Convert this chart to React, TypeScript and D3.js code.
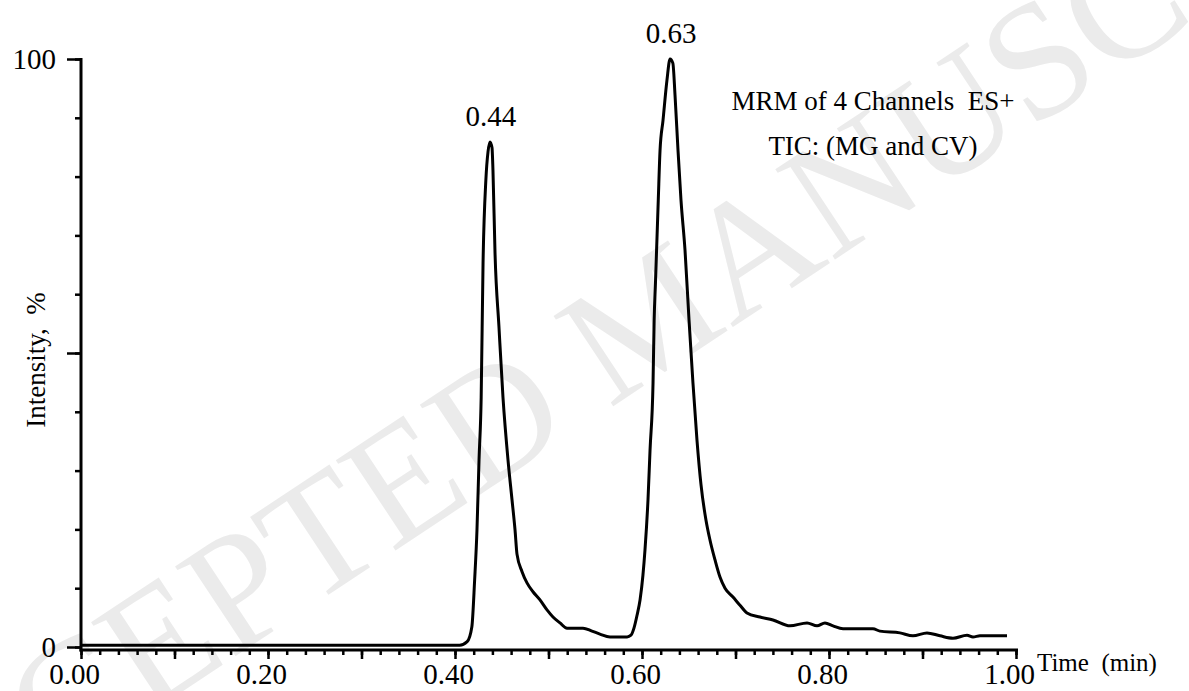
import { useEffect, useRef } from "react";
import * as d3 from "d3";

// chromatogram trace (time in min, intensity in %)
const times = [
  0, 0.1, 0.2, 0.3, 0.4, 0.405,
  0.413, 0.418, 0.421, 0.4235, 0.4257, 0.428, 0.43, 0.433, 0.4353, 0.4374,
  0.4396, 0.4406, 0.4428, 0.447, 0.4513, 0.4567, 0.461, 0.4642, 0.4663, 0.4717,
  0.477, 0.4834, 0.4909, 0.4984, 0.5048, 0.5123, 0.5198, 0.5283, 0.5369, 0.5465,
  0.555, 0.5658, 0.5765, 0.584, 0.5882, 0.5914, 0.5947, 0.5979, 0.601, 0.6032,
  0.6064, 0.6086, 0.6118, 0.613, 0.6144, 0.6174, 0.6193, 0.6225, 0.6267, 0.63,
  0.633, 0.6353, 0.6385, 0.6417, 0.646, 0.6503, 0.6545, 0.6588, 0.6631, 0.6684,
  0.6727, 0.6781, 0.6834, 0.6888, 0.6973, 0.7048, 0.7123, 0.7262, 0.7401, 0.7583,
  0.7765, 0.7872, 0.7957, 0.8043, 0.815, 0.847, 0.8545, 0.8759, 0.8898, 0.9048,
  0.9187, 0.9326, 0.9476, 0.954, 0.9615, 0.9904
];
const intensities = [
  0.3, 0.3, 0.3, 0.3, 0.3, 0.3,
  0.9, 3.4, 11.4, 19.9, 31.8, 42.5, 65.3, 79.4, 84.2, 85.9,
  84.9, 81.1, 67.0, 54.5, 42.5, 31.8, 25.0, 19.9, 15.8, 12.8,
  10.9, 9.4, 8.0, 6.3, 5.1, 4.1, 3.2, 3.2, 3.2, 2.7,
  2.2, 1.7, 1.7, 1.7, 2.0, 3.2, 5.4, 8.0, 12.2, 16.5,
  25.0, 33.5, 44.9, 55.6, 61.9, 76.0, 84.5, 89.6, 96.4, 100,
  99.3, 93.9, 84.5, 76.0, 67.5, 55.6, 44.9, 35.2, 27.6, 21.6,
  18.2, 14.8, 11.9, 10.0, 8.5, 7.1, 5.8, 5.1, 4.6, 3.6,
  4.1, 3.6, 4.1, 3.6, 3.1, 3.1, 2.7, 2.4, 1.9, 2.4,
  1.9, 1.5, 2.0, 1.7, 1.9, 1.9
];

const xTickLabels = ["0.00", "0.20", "0.40", "0.60", "0.80", "1.00"];
const yTickLabels = ["0", "", "100"];
const peakTimes = [0.4374, 0.63];
const peakHeights = [85.9, 100];
const peakLabels = ["0.44", "0.63"];
const infoLines = ["MRM of 4 Channels  ES+", "TIC: (MG and CV)"];
const watermark = "ACCEPTED MANUSCRIPT";

const App = () => {
  const svgRef = useRef(null);

  useEffect(() => {
    document.body.style.margin = "0";
    const width = 1189;
    const height = 691;
    const left = 81, right = 1016, top = 59, bottom = 647;
    const font = "'Liberation Serif', 'Times New Roman', serif";

    const svg = d3.select(svgRef.current);
    svg.selectAll("*").remove();
    svg.attr("width", width).attr("height", height);

    const x = d3.scaleLinear().domain([0, 1]).range([left, right]);
    const y = d3.scaleLinear().domain([0, 100]).range([bottom, top]);
    const axisY = y(0) + 3;

    // faint watermark behind everything
    svg
      .append("text")
      .attr("transform", "translate(680,362) rotate(-33.5)")
      .attr("text-anchor", "middle")
      .style("font-family", font)
      .style("font-size", "165px")
      .attr("fill", "#ebebeb")
      .text(watermark);

    // x axis: minor ticks every 0.02, longer every 0.1, labels every 0.2
    svg
      .append("g")
      .attr("transform", `translate(0,${axisY})`)
      .call(
        d3.axisBottom(x)
          .tickValues(d3.range(0, 51).map(i => i / 50))
          .tickSize(5)
          .tickFormat(() => "")
      );

    svg
      .append("g")
      .attr("class", "x-major")
      .attr("transform", `translate(0,${axisY})`)
      .call(
        d3.axisBottom(x)
          .tickValues(d3.range(0, 11).map(i => i / 10))
          .tickSize(9)
          .tickPadding(4)
          .tickFormat((d, i) => (i % 2 === 0 ? xTickLabels[i / 2] : ""))
      );

    svg.selectAll(".x-major text").attr("dx", -7);

    // y axis: ticks every 10, long ones at 0/50/100
    svg
      .append("g")
      .attr("transform", `translate(${left},0)`)
      .call(
        d3.axisLeft(y)
          .tickValues(d3.range(0, 101, 10))
          .tickSize(6)
          .tickFormat(() => "")
      );

    svg
      .append("g")
      .attr("transform", `translate(${left},0)`)
      .call(
        d3.axisLeft(y)
          .tickValues([0, 50, 100])
          .tickSize(14)
          .tickPadding(11)
          .tickFormat((d, i) => yTickLabels[i])
      );

    svg.selectAll(".domain").remove();
    svg.selectAll(".tick line").attr("stroke", "#000").attr("stroke-width", 2.5);
    svg
      .selectAll(".tick text")
      .attr("fill", "#000")
      .style("font-family", font)
      .style("font-size", "29px");

    svg
      .append("line")
      .attr("x1", left).attr("x2", left)
      .attr("y1", top - 1).attr("y2", axisY + 1.5)
      .attr("stroke", "#000").attr("stroke-width", 3);

    svg
      .append("line")
      .attr("x1", left - 1.5).attr("x2", right + 2)
      .attr("y1", axisY).attr("y2", axisY)
      .attr("stroke", "#000").attr("stroke-width", 3);

    // the trace
    const points = d3.zip(times, intensities);
    const line = d3
      .line()
      .x(d => x(d[0]))
      .y(d => y(d[1]))
      .curve(d3.curveMonotoneX);

    svg
      .append("path")
      .datum(points)
      .attr("d", line)
      .attr("fill", "none")
      .attr("stroke", "#000")
      .attr("stroke-width", 3)
      .attr("stroke-linejoin", "round");

    // peak retention times
    svg
      .selectAll(".peak-label")
      .data(peakLabels)
      .enter()
      .append("text")
      .attr("class", "peak-label")
      .attr("x", (d, i) => x(peakTimes[i]) + 1)
      .attr("y", (d, i) => y(peakHeights[i]) - 16)
      .attr("text-anchor", "middle")
      .style("font-family", font)
      .style("font-size", "29px")
      .text(d => d);

    svg
      .selectAll(".info")
      .data(infoLines)
      .enter()
      .append("text")
      .attr("class", "info")
      .attr("x", 873)
      .attr("y", (d, i) => 110 + i * 45)
      .attr("text-anchor", "middle")
      .style("font-family", font)
      .style("font-size", "27px")
      .style("white-space", "pre")
      .text(d => d);

    svg
      .append("text")
      .attr("x", 1037)
      .attr("y", 671)
      .style("font-family", font)
      .style("font-size", "25px")
      .style("white-space", "pre")
      .text("Time  (min)");

    svg
      .append("text")
      .attr("transform", "translate(45,360) rotate(-90)")
      .attr("text-anchor", "middle")
      .style("font-family", font)
      .style("font-size", "27px")
      .style("white-space", "pre")
      .text("Intensity,  %");
  }, []);

  return (
    <div style={{ background: "#fff" }}>
      <svg ref={svgRef} style={{ display: "block" }}></svg>
    </div>
  );
};

export default App;
